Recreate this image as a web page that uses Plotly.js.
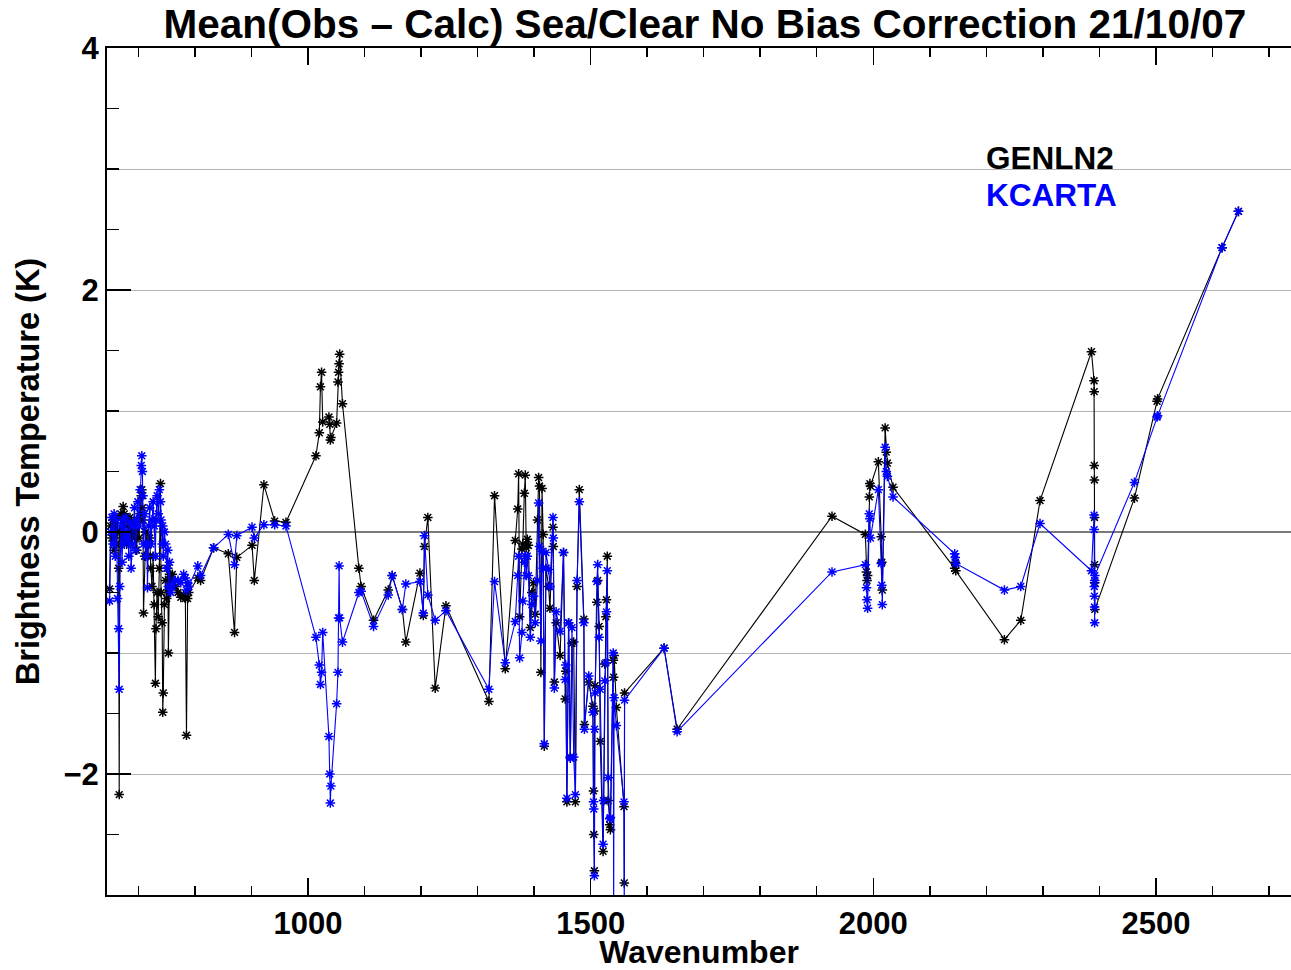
<!DOCTYPE html>
<html>
<head>
<meta charset="utf-8">
<script src="https://cdn.plot.ly/plotly-3.0.1.min.js"></script>
<style>html,body{margin:0;padding:0;background:#fff;}#chart{width:1291px;height:970px;}</style>
</head>
<body>
<div id="chart"></div>
<script>
const titleText = 'Mean(Obs \u2013 Calc) Sea/Clear No Bias Correction 21/10/07';
const xTitle = 'Wavenumber';
const yTitle = 'Brightness Temperature (K)';
const seriesNames = ['GENLN2', 'KCARTA'];

const wavenumber = [
  649, 651, 653, 655, 657, 659, 661, 663, 665, 666, 667, 669, 671, 673, 675, 677, 679, 681, 683, 685,
  687, 689, 691, 693, 695, 697, 699, 701, 703, 705, 706, 707, 708, 709, 711, 713, 715, 716, 718, 720,
  722, 724, 726, 728, 730, 731, 733, 735, 737, 739, 740, 742, 743, 744, 746, 748, 750, 752, 753, 755,
  757, 760, 765, 770, 775, 780, 783, 785, 787, 789,
  805, 810, 833, 859, 870, 874, 901, 905, 922, 941, 961,
  1014, 1020, 1022, 1024, 1026, 1037, 1038.5, 1039.5, 1040.5, 1050.6, 1053, 1054, 1055, 1056, 1061,
  1090, 1094, 1116, 1142, 1149, 1167, 1173, 1198, 1204, 1206, 1212, 1225, 1244,
  1320, 1330, 1349, 1366.7, 1371, 1372.6, 1374.4, 1378.5, 1380, 1382.7,
  1384.4, 1386, 1388, 1390, 1393.3, 1396, 1399, 1402, 1406, 1408,
  1409.5, 1412, 1414, 1416, 1418, 1421, 1425.7, 1428, 1433.4, 1434,
  1435.8, 1439, 1446, 1452, 1455, 1456, 1458, 1461, 1464, 1467,
  1470, 1473, 1476, 1480, 1488, 1489, 1496.6, 1504, 1505, 1505.5,
  1506.6, 1507, 1508, 1511, 1512.5, 1515, 1517, 1522, 1523, 1525,
  1527, 1528, 1529.5, 1531, 1533.7, 1535, 1540, 1540.7, 1541.5, 1545.5,
  1559, 1559.5, 1560,
  1630, 1653, 1927, 1986, 1988, 1989, 1990, 1993, 1994, 1995, 2009, 2014, 2015, 2016, 2021, 2023, 2025, 2035,
  2144, 2145, 2146, 2232, 2261, 2295, 2386, 2390.6, 2390.8, 2391, 2391.2, 2391.4, 2391.6, 2391.8, 2392,
  2462, 2502, 2503, 2617, 2646
];

const genln2 = [
  -0.47, 0.05, -0.05, 0.10, -0.15, 0.05, -0.10, 0.12, -0.30, -2.17, 0.00, 0.15, -0.05, 0.21, 0.15, 0.05, -0.10, 0.10, -0.05, 0.12,
  0.00, -0.10, 0.08, -0.05, 0.05, -0.15, 0.10, -0.05, 0.15, 0.30, 0.35, 0.20, 0.10, -0.67, -0.20, 0.00, -0.10, -0.20, -0.10, -0.05,
  -0.30, -0.45, -0.20, -0.60, -1.25, -0.80, -0.50, -0.70, -0.30, 0.40, -0.50, -0.75, -1.49, -1.33, -0.60, -0.40, -0.55, -0.30, -1.00, -0.35,
  -0.40, -0.35, -0.45, -0.50, -0.54, -0.52, -0.55, -1.68, -0.55, -0.50,
  -0.38, -0.40, -0.13, -0.18, -0.83, -0.21, -0.11, -0.40, 0.39, 0.09, 0.08,
  0.63, 0.82, 1.20, 1.32, 0.91, 0.95, 0.89, 0.76, 0.78, 0.90, 1.24, 1.32, 1.39, 1.47, 1.06,
  -0.30, -0.45, -0.73, -0.48, -0.36, -0.64, -0.91, -0.34, -0.69, -0.12, 0.12, -1.29, -0.61,
  -1.40, 0.30, -1.13, -0.07, 0.19, 0.48, -0.70, -0.14, -0.10, 0.32,
  0.47, -0.13, -0.06, -0.11, -0.79, -0.50, -0.42, -0.68, 0.10, 0.45,
  0.38, -1.16, 0.36, -0.02, -1.77, -0.30, -0.45, -0.63, 0.04, -0.12,
  -1.24, -0.75, -1.02, -0.17, -1.38, -1.15, -2.23, -0.75, -1.86, -0.92,
  -0.91, -2.23, -0.45, 0.35, -0.72, -1.59, -1.24, -1.44, -2.14, -2.50,
  -2.80, -1.48, -1.27, -0.58, -0.40, -0.78, -1.73, -2.64, -2.22, -1.09,
  -0.70, -0.56, -0.20, -2.22, -2.42, -2.46, -1.06, -1.20, -1.02, -1.45,
  -2.27, -2.90, -1.33,
  -0.96, -1.63, 0.13, -0.02, -0.33, -0.40, -0.36, 0.29, 0.40, 0.38, 0.58, -0.04, -0.25, -0.48, 0.86, 0.66, 0.57, 0.37,
  -0.30, -0.25, -0.32, -0.89, -0.73, 0.26, 1.49, 1.25, 1.16, 0.55, 0.43, 0.12, -0.27, -0.42, -0.64,
  0.28, 1.08, 1.10, 2.35, 2.65
];

const kcarta = [
  -0.57, 0.00, 0.12, -0.10, 0.15, -0.20, 0.10, -0.55, -0.80, -1.30, -0.45, 0.05, -0.25, 0.10, -0.10, 0.12, -0.05, 0.00, -0.20, 0.08,
  -0.30, -0.10, 0.05, 0.20, -0.15, 0.10, 0.25, 0.05, 0.35, 0.55, 0.63, 0.50, 0.30, -0.10, 0.15, -0.20, -0.10, -0.46, 0.05, 0.20,
  -0.10, 0.10, 0.25, 0.05, -0.20, 0.10, 0.30, 0.15, 0.35, 0.25, 0.10, -0.10, 0.05, -0.20, 0.00, -0.10, -0.30, -0.15, -0.45, -0.25,
  -0.50, -0.45, -0.40, -0.40, -0.42, -0.35, -0.38, -0.48, -0.42, -0.45,
  -0.28, -0.36, -0.13, -0.02, -0.27, -0.03, 0.04, -0.05, 0.06, 0.06, 0.05,
  -0.87, -1.10, -1.26, -1.16, -0.83, -1.69, -2.00, -2.24, -2.10, -1.42, -1.16, -0.71, -0.28, -0.71, -0.91,
  -0.50, -0.49, -0.78, -0.52, -0.36, -0.64, -0.43, -0.41, -0.67, -0.03, -0.52, -0.73, -0.65,
  -1.30, -0.41, -1.08, -0.74, -0.36, -0.20, -1.04, -0.83, -0.57, -0.25,
  -0.20, -0.36, -0.20, -0.36, -0.87, -0.60, -0.53, -0.75, -0.40, 0.24,
  -0.12, -0.90, -0.16, -0.30, -1.75, -0.17, -0.31, -0.45, 0.12, -0.05,
  -1.29, -0.66, -0.82, -0.17, -1.22, -1.10, -2.20, -0.75, -1.87, -0.79,
  -1.86, -2.17, -0.40, 0.25, -0.75, -1.63, -1.19, -1.49, -2.23, -2.29,
  -2.84, -1.63, -1.33, -0.41, -0.27, -0.87, -1.30, -2.58, -2.22, -1.23,
  -1.08, -0.66, -0.32, -2.03, -2.37, -2.36, -1.00, -3.30, -1.37, -1.60,
  -2.23, -3.30, -1.39,
  -0.96, -1.65, -0.33, -0.27, -0.46, -0.56, -0.63, 0.15, 0.11, -0.05, 0.35, -0.26, -0.44, -0.60, 0.70, 0.50, 0.46, 0.29,
  -0.18, -0.21, -0.26, -0.48, -0.45, 0.07, -0.32, 0.14, 0.02, -0.45, -0.53, -0.62, -0.75, -0.40, -0.36,
  0.41, 0.95, 0.96, 2.35, 2.65
];

const colors = ['#000000', '#0000ff'];
const FONT = 'Liberation Sans, Arial, Helvetica, sans-serif';

function series(y, name, color) {
  return {
    x: wavenumber, y: y, name: name, type: 'scatter', mode: 'lines+markers',
    line: {color: color, width: 1.1},
    marker: {symbol: 'asterisk', size: 8, color: color, line: {color: color, width: 1.5}},
    showlegend: false
  };
}

const data = [
  {x: [], y: [], yaxis: 'y2', type: 'scatter', mode: 'markers', showlegend: false, hoverinfo: 'skip'},
  series(genln2, seriesNames[0], colors[0]),
  series(kcarta, seriesNames[1], colors[1])
];

const layout = {
  width: 1291, height: 970,
  margin: {l: 107, r: 0, t: 48, b: 75},
  paper_bgcolor: '#ffffff', plot_bgcolor: '#ffffff',
  font: {family: FONT, color: '#000'},
  title: {
    text: titleText,
    font: {family: FONT, size: 40.5, weight: 'bold', color: '#000'},
    x: 0.546, xanchor: 'center', xref: 'container',
    y: 0.975, yanchor: 'middle', yref: 'container'
  },
  xaxis: {
    range: [644.4, 2739],
    tick0: 0, dtick: 500,
    ticks: 'inside', ticklen: 17, tickwidth: 1.5, tickcolor: '#000',
    minor: {dtick: 100, ticks: 'inside', ticklen: 9, tickwidth: 1.5, tickcolor: '#000', showgrid: false},
    showline: true, linecolor: '#000', linewidth: 2, mirror: 'ticks',
    showgrid: false, zeroline: false,
    tickfont: {family: FONT, size: 31, weight: 'bold', color: '#000'},
    title: {text: xTitle, font: {family: FONT, size: 32, weight: 'bold', color: '#000'}, standoff: 3}
  },
  yaxis: {
    range: [-3, 4],
    tick0: 0, dtick: 2,
    ticks: 'inside', ticklen: 24, tickwidth: 1.5, tickcolor: '#000',
    minor: {dtick: 0.5, ticks: 'inside', ticklen: 12, tickwidth: 1.5, tickcolor: '#000', showgrid: false},
    showline: true, linecolor: '#000', linewidth: 2, mirror: false,
    showgrid: true, gridcolor: '#b4b4b4', gridwidth: 1,
    zeroline: true, zerolinecolor: '#7a7a7a', zerolinewidth: 1.6,
    tickfont: {family: FONT, size: 31, weight: 'bold', color: '#000'},
    title: {text: yTitle, font: {family: FONT, size: 32.5, weight: 'bold', color: '#000'}, standoff: 14}
  },
  yaxis2: {
    overlaying: 'y', side: 'left', range: [-3, 4], dtick: 1, tick0: 0,
    showgrid: true, gridcolor: '#b4b4b4', gridwidth: 1,
    showticklabels: false, ticks: '', showline: false, zeroline: false
  },
  annotations: [
    {text: seriesNames[0], xref: 'paper', yref: 'paper', x: 0.741, y: 0.870, xanchor: 'left', yanchor: 'middle',
     showarrow: false, font: {family: FONT, size: 31.5, weight: 'bold', color: colors[0]}},
    {text: seriesNames[1], xref: 'paper', yref: 'paper', x: 0.741, y: 0.826, xanchor: 'left', yanchor: 'middle',
     showarrow: false, font: {family: FONT, size: 31.5, weight: 'bold', color: colors[1]}}
  ],
  showlegend: false
};

Plotly.newPlot('chart', data, layout, {displayModeBar: false, staticPlot: true});
</script>
</body>
</html>
